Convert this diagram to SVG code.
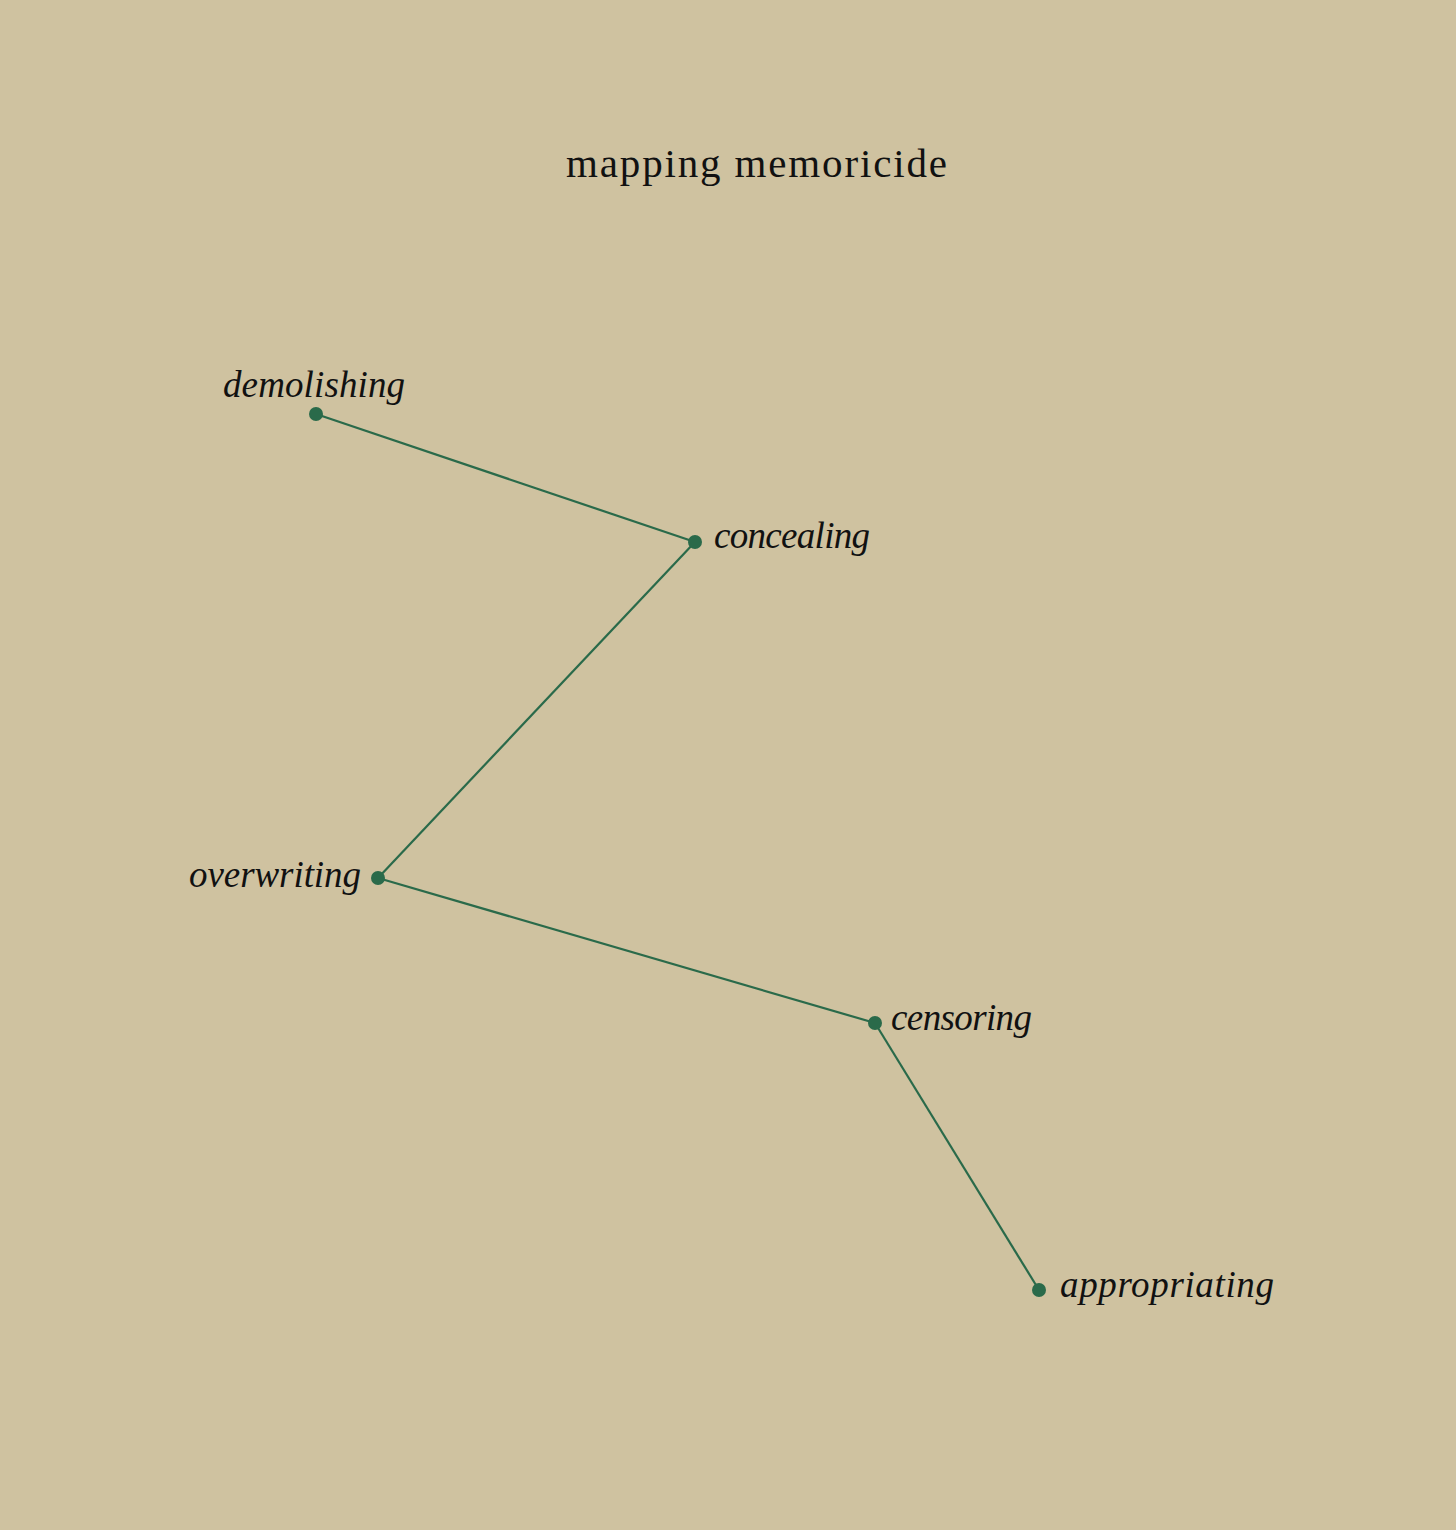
<svg xmlns="http://www.w3.org/2000/svg" width="1456" height="1530" viewBox="0 0 1456 1530">
<style>
.bg{fill:#cfc2a0}
.title{font-family:"Liberation Serif",serif;font-size:41px;fill:#111}
.lbl{font-family:"Liberation Serif",serif;font-style:italic;font-size:37px;fill:#111}
.edge{stroke:#2a6a4a;stroke-width:2.2;fill:none}
.dot{fill:#2a6a4a}
</style>
<rect class="bg" x="0" y="0" width="1456" height="1530"/>
<text class="title" x="566" y="177" textLength="381" lengthAdjust="spacing">mapping memoricide</text>
<g id="connectors">
<line class="edge" x1="316" y1="414" x2="695" y2="542"/>
<line class="edge" x1="695" y1="542" x2="378" y2="878"/>
<line class="edge" x1="378" y1="878" x2="875" y2="1023"/>
<line class="edge" x1="875" y1="1023" x2="1039" y2="1290"/>
</g>
<g id="demolishing"><circle class="dot" cx="316" cy="414" r="7"/><text class="lbl" x="223" y="397" textLength="182" lengthAdjust="spacing">demolishing</text></g>
<g id="concealing"><circle class="dot" cx="695" cy="542" r="7"/><text class="lbl" x="714" y="548" textLength="156" lengthAdjust="spacing">concealing</text></g>
<g id="overwriting"><circle class="dot" cx="378" cy="878" r="7"/><text class="lbl" x="189" y="887" textLength="172" lengthAdjust="spacing">overwriting</text></g>
<g id="censoring"><circle class="dot" cx="875" cy="1023" r="7"/><text class="lbl" x="891" y="1030" textLength="141" lengthAdjust="spacing">censoring</text></g>
<g id="appropriating"><circle class="dot" cx="1039" cy="1290" r="7"/><text class="lbl" x="1060" y="1297" textLength="214" lengthAdjust="spacing">appropriating</text></g>
</svg>
